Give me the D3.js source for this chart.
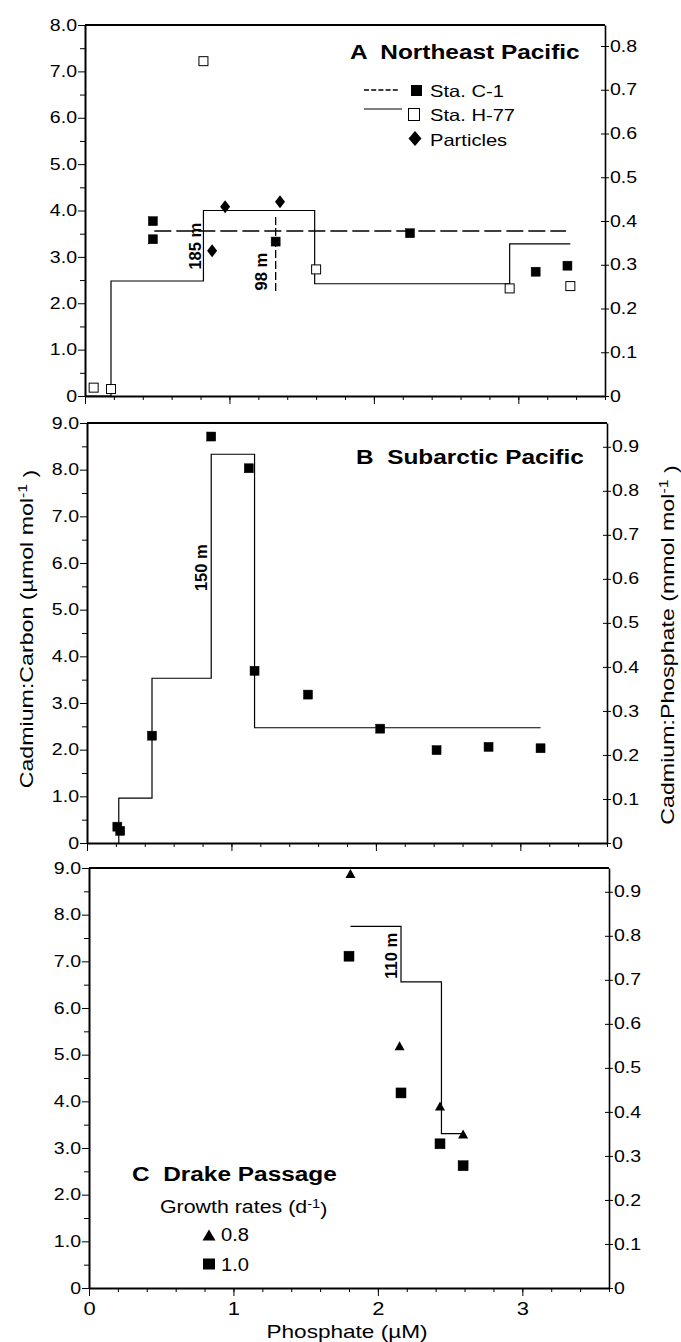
<!DOCTYPE html>
<head>
  <meta charset="utf-8">
  <title>Cadmium:Carbon vs Phosphate</title>
  <script src="https://d3js.org/d3.v7.min.js"></script>
  <style>
    body { margin: 0; background: #fff; }
    svg { display: block; }
    text { font-family: "Liberation Sans", Arial, Helvetica, sans-serif; fill: #000; }
    .axis text { font-size: 16px; }
    .axis path, .axis line { stroke: #000; }
    .step { fill: none; stroke: #000; stroke-width: 1.2; }
    .depth { font-size: 16.5px; font-weight: bold; }
    .title { font-size: 20px; font-weight: bold; white-space: pre; }
    .legend { font-size: 16.5px; white-space: pre; }
  </style>
</head>
<body>
<svg width="681" height="1342"></svg>
<script>
  // tick labels
  var xTicks = [0, 1, 2, 3];
  var leftTicksA = [0, 1, 2, 3, 4, 5, 6, 7, 8];
  var leftTicksBC = [0, 1, 2, 3, 4, 5, 6, 7, 8, 9];
  var rightTicksA = [0, 0.1, 0.2, 0.3, 0.4, 0.5, 0.6, 0.7, 0.8];
  var rightTicksBC = [0, 0.1, 0.2, 0.3, 0.4, 0.5, 0.6, 0.7, 0.8, 0.9];

  // A  Northeast Pacific  [phosphate uM, Cd:C umol/mol]
  var staC1 = [[0.47, 3.77], [0.47, 3.38], [1.32, 3.33], [2.25, 3.51], [3.12, 2.68], [3.34, 2.81]];
  var staH77 = [[0.06, 0.18], [0.18, 0.15], [0.82, 7.22], [1.60, 2.73], [2.94, 2.32], [3.36, 2.37]];
  var particles = [[0.97, 4.08], [1.35, 4.19], [0.88, 3.13]];
  var c1Mean = [[0.48, 3.56], [3.33, 3.56]];
  var h77Steps = [[0, 0], [0.18, 2.48], [0.82, 4.0], [1.59, 2.42], [2.94, 3.28], [3.36, 3.28]];
  var depthA = [{ label: "185 m", at: [0.76, 3.23] }, { label: "98 m", at: [1.22, 2.68] }];
  var markA = [[1.32, 3.86], [1.32, 2.25]];

  // B  Subarctic Pacific
  var subarctic = [[0.21, 0.35], [0.23, 0.26], [0.45, 2.30], [0.86, 8.71], [1.12, 8.03], [1.16, 3.69],
                   [1.53, 3.18], [2.03, 2.45], [2.42, 1.99], [2.78, 2.06], [3.14, 2.03]];
  var subSteps = [[0.22, 0], [0.22, 0.96], [0.45, 3.53], [0.86, 8.33], [1.16, 2.47], [3.14, 2.47]];
  var depthB = [{ label: "150 m", at: [0.79, 5.9] }];

  // C  Drake Passage
  var drake08 = [[1.81, 8.88], [2.15, 5.19], [2.43, 3.90], [2.59, 3.30]];
  var drake10 = [[1.80, 7.11], [2.16, 4.18], [2.43, 3.09], [2.59, 2.62]];
  var drakeSteps = [[1.81, 7.75], [2.16, 6.56], [2.44, 3.31], [2.59, 3.31]];
  var depthC = [{ label: "110 m", at: [2.09, 7.12] }];

  var WIDEN = 1.22;   // the original lettering is wide
  var CDP = 0.106;    // Cd:P (mmol/mol) = Cd:C (umol/mol) * 106 / 1000

  var svg = d3.select("svg");

  var panels = [
    { top: 25,  bottom: 396,  left: 85, right: 605, yMax: 8, yTicks: leftTicksA,  rTicks: rightTicksA },
    { top: 423, bottom: 843,  left: 87, right: 607, yMax: 9, yTicks: leftTicksBC, rTicks: rightTicksBC },
    { top: 868, bottom: 1288, left: 89, right: 609, yMax: 9, yTicks: leftTicksBC, rTicks: rightTicksBC }
  ];

  function fmt(d) { return d === 0 ? "0" : d.toFixed(1); }

  panels.forEach(function(p, i) {
    p.x = d3.scaleLinear().domain([0, 3.6]).range([p.left, p.right]);
    p.y = d3.scaleLinear().domain([0, p.yMax]).range([p.bottom, p.top]);
    p.r = d3.scaleLinear().domain([0, p.yMax * CDP]).range([p.bottom, p.top]);
    p.g = svg.append("g");
    drawAxes(p, i === 2);
  });

  function drawAxes(p, labelled) {
    var g = p.g;
    g.append("line")
      .attr("x1", p.left).attr("x2", p.right)
      .attr("y1", p.top).attr("y2", p.top)
      .attr("stroke", "#000").attr("stroke-width", 2);

    // left: minor half ticks, then labelled ticks
    var halves = p.y.ticks(p.yMax * 2).filter(function(d) { return d % 1 !== 0; });
    g.append("g").attr("class", "axis").attr("transform", translate(p.left, 0))
      .call(d3.axisLeft(p.y).tickValues(halves).tickSize(5).tickSizeOuter(0).tickFormat(""));
    var left = g.append("g").attr("class", "axis").attr("transform", translate(p.left, 0))
      .call(d3.axisLeft(p.y).tickValues(p.yTicks).tickSize(7).tickPadding(1).tickSizeOuter(0).tickFormat(fmt));
    left.select(".domain").attr("stroke-width", 2);
    widen(left.selectAll("text"), WIDEN);

    // right: Cd:P, ticks cross the line
    var right = g.append("g").attr("class", "axis").attr("transform", translate(p.right, 0))
      .call(d3.axisRight(p.r).tickValues(p.rTicks).tickSize(4).tickPadding(1).tickSizeOuter(0).tickFormat(fmt));
    right.selectAll(".tick line").attr("x1", -4);
    right.select(".domain").attr("stroke-width", 1.6);
    widen(right.selectAll("text"), WIDEN);

    // bottom: 0.2 minor ticks and unit ticks
    g.append("g").attr("class", "axis").attr("transform", translate(0, p.bottom))
      .call(d3.axisBottom(p.x).tickValues(p.x.ticks(18)).tickSize(4).tickSizeOuter(0).tickFormat(""));
    var bottom = g.append("g").attr("class", "axis").attr("transform", translate(0, p.bottom))
      .call(d3.axisBottom(p.x).tickValues(xTicks).tickSize(8).tickPadding(6).tickSizeOuter(0)
        .tickFormat(labelled ? d3.format("d") : ""));
    bottom.select(".domain").attr("stroke-width", 2);
    bottom.selectAll("text").style("font-size", "18px");
    widen(bottom.selectAll("text"), WIDEN);
  }

  // ---------- marks ----------
  function squares(p, data, filled, size) {
    p.g.append("g").selectAll("rect").data(data).enter().append("rect")
      .attr("x", function(d) { return p.x(d[0]) - size / 2; })
      .attr("y", function(d) { return p.y(d[1]) - size / 2; })
      .attr("width", size).attr("height", size)
      .attr("fill", filled ? "#000" : "#fff")
      .attr("stroke", "#000").attr("stroke-width", filled ? 0.5 : 1);
  }
  function diamond(w, h) { return "M0," + (-h) + "L" + w + ",0L0," + h + "L" + (-w) + ",0Z"; }
  function triangle(w, h) { return "M0," + (-h) + "L" + w + "," + h + "L" + (-w) + "," + h + "Z"; }
  function shapes(p, data, path) {
    p.g.append("g").selectAll("path").data(data).enter().append("path")
      .attr("transform", function(d) { return translate(p.x(d[0]), p.y(d[1])); })
      .attr("d", path).attr("fill", "#000");
  }
  function steps(p, data) {
    var line = d3.line()
      .x(function(d) { return p.x(d[0]); })
      .y(function(d) { return p.y(d[1]); })
      .curve(d3.curveStepAfter);
    p.g.append("path").datum(data).attr("class", "step").attr("d", line);
  }
  function depths(p, data) {
    p.g.selectAll(null).data(data).enter().append("text")
      .attr("class", "depth")
      .attr("text-anchor", "middle").attr("dy", "0.36em")
      .attr("transform", function(d) { return translate(p.x(d.at[0]), p.y(d.at[1])) + " rotate(-90)"; })
      .text(function(d) { return d.label; });
  }

  var A = panels[0], B = panels[1], C = panels[2];
  var lineA = d3.line().x(function(d) { return A.x(d[0]); }).y(function(d) { return A.y(d[1]); });

  // panel A
  steps(A, h77Steps);
  A.g.append("path").datum(c1Mean).attr("d", lineA)
    .attr("fill", "none").attr("stroke", "#000").attr("stroke-width", 1.5).attr("stroke-dasharray", "17,5");
  A.g.append("path").datum(markA).attr("d", lineA)
    .attr("fill", "none").attr("stroke", "#000").attr("stroke-width", 1.3).attr("stroke-dasharray", "8,3");
  squares(A, staC1, true, 9);
  squares(A, staH77, false, 9);
  shapes(A, particles, diamond(5, 6.5));
  depths(A, depthA);

  // panel B
  steps(B, subSteps);
  squares(B, subarctic, true, 9);
  depths(B, depthB);

  // panel C
  steps(C, drakeSteps);
  shapes(C, drake08, triangle(5, 4.5));
  squares(C, drake10, true, 10);
  depths(C, depthC);

  // ---------- titles and legends ----------
  function label(x, y, cls, str) {
    var t = svg.append("text").attr("class", cls).attr("x", x).attr("y", y).text(str);
    widen(t, WIDEN);
    return t;
  }
  label(350, 59, "title", "A  Northeast Pacific");
  label(356, 464, "title", "B  Subarctic Pacific");
  label(132, 1181, "title", "C  Drake Passage");

  // legend A
  var lg = svg.append("g");
  lg.append("line").attr("x1", 364).attr("x2", 400).attr("y1", 90).attr("y2", 90)
    .attr("stroke", "#000").attr("stroke-width", 1.5).attr("stroke-dasharray", "5,2.2");
  lg.append("rect").attr("x", 411).attr("y", 85).attr("width", 11).attr("height", 11).attr("fill", "#000");
  lg.append("line").attr("x1", 364).attr("x2", 402).attr("y1", 109).attr("y2", 109)
    .attr("stroke", "#000").attr("stroke-width", 1.2);
  lg.append("rect").attr("x", 408.5).attr("y", 108.5).attr("width", 11).attr("height", 12)
    .attr("fill", "#fff").attr("stroke", "#000").attr("stroke-width", 1);
  lg.append("path").attr("transform", translate(415, 138.5)).attr("d", diamond(6.5, 7.5)).attr("fill", "#000");
  label(430, 97, "legend", "Sta. C-1");
  label(430, 120.5, "legend", "Sta. H-77");
  label(430, 145.5, "legend", "Particles");

  // legend C
  var gr = svg.append("text").attr("class", "legend").attr("x", 160).attr("y", 1213).style("font-size", "17.5px");
  gr.append("tspan").text("Growth rates (d");
  gr.append("tspan").attr("dy", "-0.45em").style("font-size", "12px").text("-1");
  gr.append("tspan").attr("dy", "0.45em").text(")");
  widen(gr, WIDEN);
  svg.append("path").attr("transform", translate(209, 1235)).attr("d", triangle(6.5, 5.5)).attr("fill", "#000");
  svg.append("rect").attr("x", 203).attr("y", 1258.5).attr("width", 12).attr("height", 11).attr("fill", "#000");
  label(221, 1241, "legend", "0.8").style("font-size", "18px");
  label(221, 1271, "legend", "1.0").style("font-size", "18px");

  // axis titles
  function rotTitle(x, y, main, tail) {
    var t = svg.append("text").attr("text-anchor", "middle").style("font-size", "19px").style("white-space", "pre")
      .attr("transform", translate(x, y) + " rotate(-90)");
    t.append("tspan").text(main);
    t.append("tspan").attr("dy", "-0.45em").style("font-size", "13px").text("-1");
    t.append("tspan").attr("dy", "0.45em").text(tail);
    widen(t, WIDEN);
  }
  rotTitle(33, 629, "Cadmium:Carbon (µmol mol", " )");
  rotTitle(674, 645, "Cadmium:Phosphate (mmol mol", " )");
  var xt = svg.append("text").attr("x", 347).attr("y", 1338).attr("text-anchor", "middle")
    .style("font-size", "18.5px").text("Phosphate (µM)");
  widen(xt, WIDEN);

  function widen(sel, k) {
    sel.each(function() {
      var w = this.getComputedTextLength();
      if (w > 0) d3.select(this).attr("textLength", w * k).attr("lengthAdjust", "spacingAndGlyphs");
    });
  }

  function translate(x, y) {
    return "translate(" + String(x) + "," + String(y) + ")";
  }
</script>
</body>
</html>
